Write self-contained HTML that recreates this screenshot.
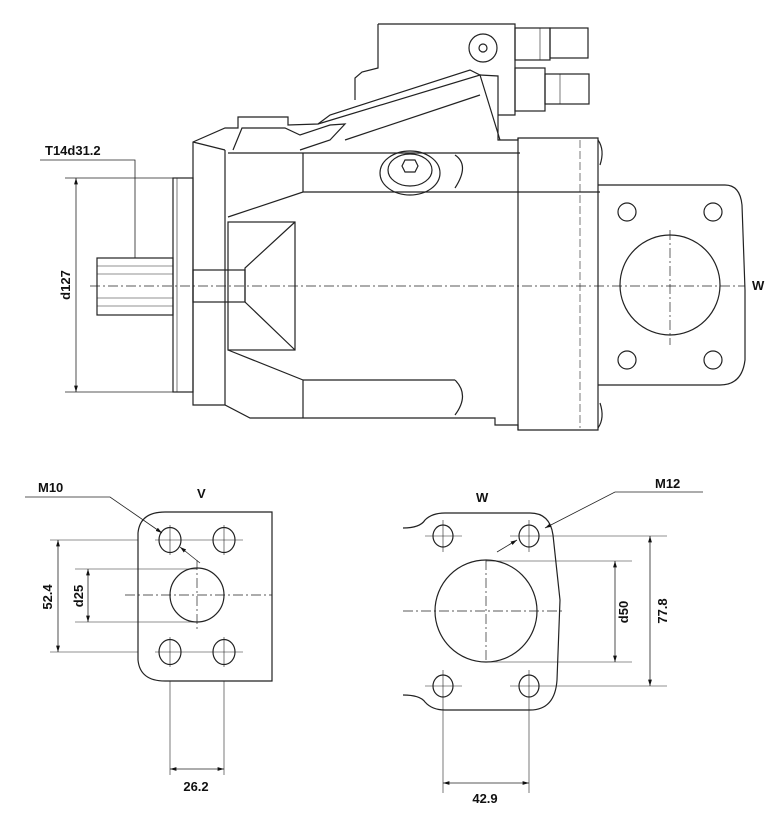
<!DOCTYPE html>
<html><head><style>html,body{margin:0;padding:0;background:#fff}svg{display:block}text{font-family:"Liberation Sans",sans-serif;font-weight:bold;fill:#111}</style></head>
<body>
<svg width="778" height="834" viewBox="0 0 778 834" xmlns="http://www.w3.org/2000/svg">
<defs><marker id="a" viewBox="0 0 10 10" refX="10" refY="5" markerWidth="8" markerHeight="8" orient="auto-start-reverse"><path d="M0,2L10,5L0,8z" fill="#111"/></marker></defs>
<g fill="none" stroke="#222" stroke-width="1.2">
<rect x="97" y="258" width="76" height="57"/>
<g stroke-width="0.6"><line x1="97" y1="266" x2="173" y2="266"/><line x1="97" y1="274" x2="173" y2="274"/><line x1="97" y1="298" x2="173" y2="298"/><line x1="97" y1="306" x2="173" y2="306"/></g>
<rect x="173" y="178" width="20" height="214"/>
<line x1="177" y1="178" x2="177" y2="392" stroke-width="0.6"/>
<path d="M193,142 L225,128 L238,128 L238,117 L288,117 L288,125 L318,124 L330,115 L470,70 L480,75 L498,76 L498,140 L518,140 L518,138 L598,138 L598,430 L518,430 L518,425 L495,425 L495,418 L250,418 L225,405 L193,405 Z"/>
<line x1="225" y1="150" x2="225" y2="405"/>
<path d="M225,150 L193,142"/>
<path d="M228,153 L520,153"/>
<path d="M233,150 L242,128 L285,128 L300,135 L330,125 L345,124 L330,140 L300,150"/>
<path d="M318,124 L480,75 L500,140"/>
<path d="M345,140 L480,95"/>
<line x1="303" y1="153" x2="303" y2="192"/>
<path d="M228,217 L303,192 L600,192"/>
<line x1="518" y1="138" x2="518" y2="430"/>
<line x1="580" y1="140" x2="580" y2="428" stroke-width="0.6" stroke-dasharray="8,3"/>
<path d="M598,140 Q605,150 600,165"/>
<path d="M598,428 Q605,418 600,403"/>
<ellipse cx="410" cy="173" rx="30" ry="22"/><ellipse cx="410" cy="170" rx="22" ry="16"/>
<path d="M405,160 L415,160 L418,166 L415,172 L405,172 L402,166 Z"/>
<path d="M455,155 Q470,165 455,188"/>
<rect x="228" y="222" width="67" height="128"/>
<path d="M295,222 L245,268 L245,302 L295,350"/>
<rect x="193" y="270" width="52" height="32"/>
<path d="M228,350 L303,380 L303,418"/>
<line x1="303" y1="380" x2="455" y2="380"/>
<path d="M455,380 Q470,395 455,415"/>
<path d="M378,24 L515,24 L515,115 L498,115 M378,24 L378,68 L362,72 L355,78 L355,100"/>
<circle cx="483" cy="48" r="14"/><circle cx="483" cy="48" r="4"/>
<rect x="515" y="28" width="35" height="32"/><rect x="550" y="28" width="38" height="30"/>
<rect x="515" y="68" width="30" height="43"/><rect x="545" y="74" width="44" height="30"/>
<line x1="540" y1="28" x2="540" y2="60" stroke-width="0.6"/><line x1="560" y1="74" x2="560" y2="104" stroke-width="0.6"/>
<path d="M598,185 L725,185 Q740,185 742,205 L745,290 L745,360 Q742,385 720,385 L598,385"/>
<circle cx="670" cy="285" r="50"/>
<circle cx="627" cy="212" r="9"/><circle cx="713" cy="212" r="9"/><circle cx="627" cy="360" r="9"/><circle cx="713" cy="360" r="9"/>
<g stroke-width="0.7" stroke-dasharray="10,3,2,3"><line x1="90" y1="286" x2="745" y2="286"/><line x1="670" y1="230" x2="670" y2="345"/></g>
<line x1="65" y1="178" x2="173" y2="178" stroke-width="0.7"/><line x1="65" y1="392" x2="173" y2="392" stroke-width="0.7"/>
<line x1="76" y1="178" x2="76" y2="392" marker-start="url(#a)" marker-end="url(#a)" stroke-width="0.8"/>
<path d="M40,160 L135,160 L135,258" stroke-width="0.8"/>
<path d="M138,533 Q140,512 165,512 L272,512 L272,681 L165,681 Q140,681 138,660 Z"/>
<circle cx="197" cy="595" r="27"/>
<ellipse cx="170" cy="540" rx="11" ry="12.5"/><ellipse cx="224" cy="540" rx="11" ry="12.5"/><ellipse cx="170" cy="652" rx="11" ry="12.5"/><ellipse cx="224" cy="652" rx="11" ry="12.5"/>
<g stroke-width="0.6"><line x1="50" y1="540" x2="138" y2="540"/><line x1="50" y1="652" x2="138" y2="652"/><line x1="75" y1="569" x2="197" y2="569"/><line x1="75" y1="622" x2="197" y2="622"/>
<line x1="170" y1="681" x2="170" y2="775"/><line x1="224" y1="681" x2="224" y2="775"/>
<line x1="155" y1="540" x2="243" y2="540"/><line x1="155" y1="652" x2="243" y2="652"/><line x1="170" y1="525" x2="170" y2="555"/><line x1="224" y1="525" x2="224" y2="555"/><line x1="170" y1="637" x2="170" y2="667"/><line x1="224" y1="637" x2="224" y2="667"/></g>
<g stroke-width="0.7" stroke-dasharray="10,3,2,3"><line x1="125" y1="595" x2="272" y2="595"/><line x1="197" y1="560" x2="197" y2="630"/></g>
<line x1="58" y1="540" x2="58" y2="652" marker-start="url(#a)" marker-end="url(#a)" stroke-width="0.8"/>
<line x1="88" y1="569" x2="88" y2="622" marker-start="url(#a)" marker-end="url(#a)" stroke-width="0.8"/>
<line x1="170" y1="769" x2="224" y2="769" marker-start="url(#a)" marker-end="url(#a)" stroke-width="0.8"/>
<path d="M25,497 L110,497 L162,533" marker-end="url(#a)" stroke-width="0.8"/>
<line x1="200" y1="563" x2="180" y2="547" marker-end="url(#a)" stroke-width="0.8"/>
<path d="M403,528 Q420,528 425,520 Q432,513 445,513 L530,513 Q550,513 553,535 L560,600 L557,680 Q555,710 530,710 L445,710 Q432,710 425,702 Q420,695 403,695"/>
<circle cx="486" cy="611" r="51"/>
<ellipse cx="443" cy="536" rx="10" ry="11"/><ellipse cx="529" cy="536" rx="10" ry="11"/><ellipse cx="443" cy="686" rx="10" ry="11"/><ellipse cx="529" cy="686" rx="10" ry="11"/>
<g stroke-width="0.6"><line x1="425" y1="536" x2="462" y2="536"/><line x1="510" y1="536" x2="667" y2="536"/><line x1="425" y1="686" x2="462" y2="686"/><line x1="510" y1="686" x2="667" y2="686"/>
<line x1="486" y1="561" x2="632" y2="561"/><line x1="486" y1="662" x2="632" y2="662"/>
<line x1="443" y1="520" x2="443" y2="552"/><line x1="529" y1="520" x2="529" y2="552"/><line x1="443" y1="670" x2="443" y2="793"/><line x1="529" y1="670" x2="529" y2="793"/></g>
<g stroke-width="0.7" stroke-dasharray="10,3,2,3"><line x1="403" y1="611" x2="562" y2="611"/><line x1="486" y1="560" x2="486" y2="662"/></g>
<line x1="615" y1="561" x2="615" y2="662" marker-start="url(#a)" marker-end="url(#a)" stroke-width="0.8"/>
<line x1="650" y1="536" x2="650" y2="686" marker-start="url(#a)" marker-end="url(#a)" stroke-width="0.8"/>
<line x1="443" y1="783" x2="529" y2="783" marker-start="url(#a)" marker-end="url(#a)" stroke-width="0.8"/>
<path d="M703,492 L615,492 L545,528" marker-end="url(#a)" stroke-width="0.8"/>
<line x1="497" y1="552" x2="517" y2="540" marker-end="url(#a)" stroke-width="0.8"/>
</g>
<text x="45" y="155" font-size="13">T14d31.2</text>
<text x="70" y="285" font-size="13" text-anchor="middle" transform="rotate(-90 70 285)">d127</text>
<text x="752" y="290" font-size="13">W</text>
<text x="38" y="492" font-size="13">M10</text>
<text x="197" y="498" font-size="13">V</text>
<text x="52" y="597" font-size="13" text-anchor="middle" transform="rotate(-90 52 597)">52.4</text>
<text x="83" y="596" font-size="13" text-anchor="middle" transform="rotate(-90 83 596)">d25</text>
<text x="196" y="791" font-size="13" text-anchor="middle">26.2</text>
<text x="476" y="502" font-size="13">W</text>
<text x="655" y="488" font-size="13">M12</text>
<text x="628" y="612" font-size="13" text-anchor="middle" transform="rotate(-90 628 612)">d50</text>
<text x="667" y="611" font-size="13" text-anchor="middle" transform="rotate(-90 667 611)">77.8</text>
<text x="485" y="803" font-size="13" text-anchor="middle">42.9</text>
</svg>
</body></html>
